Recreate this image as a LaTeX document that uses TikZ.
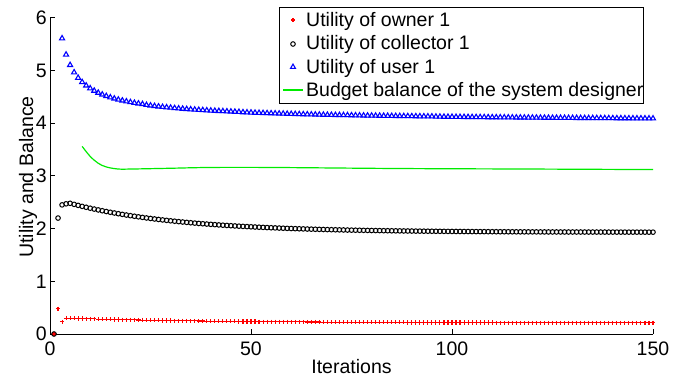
\documentclass[tikz,border=0pt]{standalone}
\usepackage{fontspec}
\setmainfont{Liberation Sans}
\usetikzlibrary{plotmarks}
\definecolor{ownerred}{RGB}{255,0,0}
\definecolor{userblue}{RGB}{0,0,255}
\definecolor{budgetgreen}{RGB}{0,235,0}
\begin{document}
\begin{tikzpicture}[x=4.02bp,y=52.7bp,
  font=\fontsize{19.5bp}{23bp}\selectfont,
  axisline/.style={line width=0.8pt,black},
  ownermk/.style={only marks,mark=+,mark size=2.1bp,ownerred,line width=1.1pt},
  collmk/.style={only marks,mark=o,mark size=2.3bp,black,line width=1pt},
  usermk/.style={only marks,mark=triangle,mark size=2.9bp,userblue,line width=1.1pt},
  budgetline/.style={budgetgreen,line width=1.2pt},
  ticklab/.style={inner sep=0pt},
  legtext/.style={anchor=base west,inner sep=0pt}]
\useasboundingbox (-50bp,-45bp) rectangle (642bp,334bp);

% axes
\draw[axisline] (0,6) -- (0,0) -- (150,0);
\foreach \t in {50,100,150} \draw[axisline] (\t,0) -- ++(0,5bp);
\foreach \v in {1,...,6} \draw[axisline] (0,\v) -- ++(5bp,0);
\foreach \t in {0,50,100,150} \node[ticklab,anchor=north] (xl\t) at (\t,-8bp) {\t};
\foreach \v in {0,...,6} \node[ticklab,anchor=east] (yl\v) at (-3bp,\v) {\v};
\node[anchor=base,inner sep=0pt] (xlabel) at (75,-39bp) {Iterations};
\node[anchor=base,inner sep=0pt,rotate=90] (ylabel) at (-17bp,157bp) {Utility and Balance};

% budget balance (green line)
\draw[budgetline] plot[smooth,tension=0.6] coordinates {(8,3.56) (10,3.37) (12,3.24) (14,3.17) (17,3.13) (20,3.13) (30,3.145) (40,3.16) (55,3.16) (87,3.14) (120,3.13) (150,3.12)};

% owner
\draw[ownermk] plot coordinates {(1,0) (2,0.48) (3,0.23)};
\draw[ownermk] plot[domain=4:150,samples=147] (\x,{0.212+0.09*exp(-(\x-4)/35)});

% collector
\draw[collmk] plot coordinates {(1,0) (2,2.2) (3,2.45) (4,2.47) (5,2.48)};
\draw[collmk] plot[domain=6:150,samples=145] (\x,{1.93+0.55*exp(-(\x-5)/27)});

% user
\draw[usermk] plot[domain=3:150,samples=148] (\x,{4.0+1.61*(3/\x)^0.74});

% legend
\node[draw,line width=0.8pt,anchor=north west,inner sep=0pt,minimum width=364bp,minimum height=96bp] (legend) at (229bp,327bp) {};
\node[legtext] (l1) at (256bp,307.5bp) {Utility of owner 1};
\node[legtext] (l2) at (256bp,284bp) {Utility of collector 1};
\node[legtext] (l3) at (256bp,260.5bp) {Utility of user 1};
\node[legtext] (l4) at (256bp,237bp) {Budget balance of the system designer};
\draw[ownermk] plot coordinates {(243bp,314bp)};
\draw[collmk] plot coordinates {(243bp,290bp)};
\draw[usermk] plot coordinates {(243bp,267bp)};
\coordinate (g1) at (233bp,244bp);
\coordinate (g2) at (253bp,244bp);
\draw[budgetline] (g1) -- (g2);
\end{tikzpicture}
\end{document}
